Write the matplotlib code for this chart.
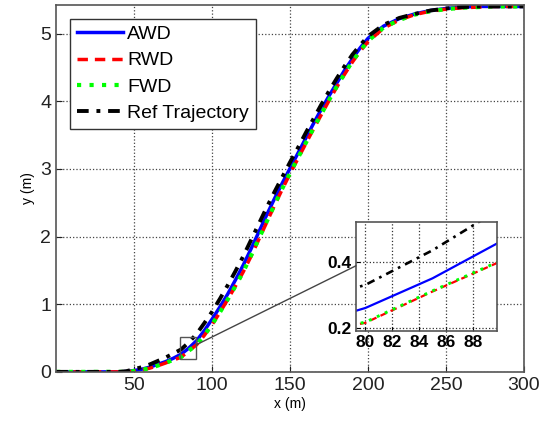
import matplotlib.pyplot as plt
from matplotlib.patches import Rectangle, ConnectionPatch

x = [0, 10, 20, 30, 40, 45, 50, 55, 60, 65, 70, 75, 80, 85, 90, 95, 100,
     105, 110, 115, 120, 125, 130, 135, 140, 145, 150, 155, 160, 165, 170,
     175, 180, 185, 190, 195, 200, 210, 220, 230, 240, 250, 260, 270, 280,
     290, 300]

awd = [0, 0, 0, 0, 0, 0.005, 0.02, 0.04, 0.07, 0.11, 0.15, 0.20, 0.26, 0.35,
       0.46, 0.61, 0.78, 0.96, 1.15, 1.36, 1.58, 1.82, 2.07, 2.32, 2.56,
       2.79, 3.01, 3.23, 3.45, 3.67, 3.88, 4.08, 4.27, 4.46, 4.63, 4.79,
       4.93, 5.11, 5.22, 5.29, 5.34, 5.37, 5.39, 5.40, 5.40, 5.40, 5.40]

rwd = [0, 0, 0, 0, 0, 0, 0.01, 0.03, 0.055, 0.09, 0.13, 0.175, 0.215, 0.31,
       0.40, 0.54, 0.70, 0.88, 1.07, 1.27, 1.48, 1.71, 1.96, 2.21, 2.46,
       2.70, 2.93, 3.15, 3.37, 3.59, 3.80, 4.01, 4.21, 4.40, 4.58, 4.74,
       4.88, 5.08, 5.20, 5.28, 5.33, 5.36, 5.38, 5.39, 5.40, 5.40, 5.40]

fwd = [0, 0, 0, 0, 0, 0, 0.012, 0.03, 0.056, 0.092, 0.132, 0.177, 0.217,
       0.312, 0.402, 0.542, 0.702, 0.882, 1.07, 1.27, 1.48, 1.72, 1.97,
       2.22, 2.47, 2.71, 2.94, 3.16, 3.38, 3.60, 3.81, 4.02, 4.22, 4.41,
       4.59, 4.75, 4.89, 5.09, 5.20, 5.28, 5.33, 5.36, 5.38, 5.39, 5.40,
       5.40, 5.40]

ref = [0, 0, 0, 0, 0, 0.01, 0.04, 0.07, 0.11, 0.16, 0.21, 0.27, 0.33, 0.435,
       0.56, 0.72, 0.89, 1.08, 1.28, 1.49, 1.71, 1.95, 2.19, 2.43, 2.66,
       2.88, 3.10, 3.31, 3.53, 3.74, 3.95, 4.15, 4.34, 4.52, 4.69, 4.83,
       4.96, 5.13, 5.23, 5.29, 5.34, 5.37, 5.39, 5.40, 5.40, 5.40, 5.40]

labels = ['AWD', 'RWD', 'FWD', 'Ref Trajectory']

plt.rcParams['font.family'] = ['Liberation Sans', 'DejaVu Sans']

fig = plt.figure(figsize=(5.51, 4.25), dpi=100)
ax = fig.add_axes([0.102, 0.125, 0.849, 0.863])


def draw(a, lw):
    a.plot(x, awd, color='blue', ls='-', lw=lw, label=labels[0])
    a.plot(x, rwd, color='red', ls=(0, (3, 2)), lw=lw, label=labels[1])
    a.plot(x, fwd, color='lime', ls=(0, (1, 2)), lw=lw + 0.5, label=labels[2])
    a.plot(x, ref, color='black', ls=(0, (3, 2, 1, 2)), lw=lw + 0.3,
           label=labels[3])


draw(ax, 2.5)
ax.set_xlim(0, 300)
ax.set_ylim(0, 5.42)
ax.set_xticks([50, 100, 150, 200, 250, 300])
ax.set_yticks([0, 1, 2, 3, 4, 5])
ax.tick_params(direction='in', labelsize=14, length=4, colors='#222222')
ax.grid(True, ls=':', color='#444444', lw=0.9)
ax.set_xlabel('x (m)', fontsize=10, labelpad=2)
ax.set_ylabel('y (m)', fontsize=10, labelpad=4)
for s in ax.spines.values():
    s.set_color('#555555')
    s.set_linewidth(1.2)

leg = ax.legend(loc='upper left', fontsize=14, handlelength=2.4,
                handletextpad=0.2, borderaxespad=0.7, labelspacing=0.45,
                borderpad=0.35, fancybox=False, framealpha=1)
leg.get_frame().set_edgecolor('#333333')
leg.get_frame().set_linewidth(1.0)

# zoom box on main axes
ax.add_patch(Rectangle((79.3, 0.19), 10.5, 0.33, fill=False,
                       ec='#555555', lw=1, zorder=5))

# inset
ins = fig.add_axes([0.646, 0.221, 0.256, 0.256])
draw(ins, 1.6)
ins.set_xlim(79.3, 89.8)
ins.set_ylim(0.19, 0.52)
ins.set_xticks([80, 82, 84, 86, 88])
ins.set_yticks([0.2, 0.4])
ins.tick_params(direction='in', labelsize=12.5, length=3, pad=3)
for t in ins.get_xticklabels() + ins.get_yticklabels():
    t.set_fontweight('bold')
ins.grid(True, ls=':', color='#333333', lw=0.9)
for s in ins.spines.values():
    s.set_color('#555555')
    s.set_linewidth(1.2)

con = ConnectionPatch(xyA=(89.8, 0.40), coordsA=ax.transData,
                      xyB=(0.0, 0.6), coordsB=ins.transAxes,
                      color='#444444', lw=1)
fig.add_artist(con)

fig.savefig('out.png', dpi=100)
